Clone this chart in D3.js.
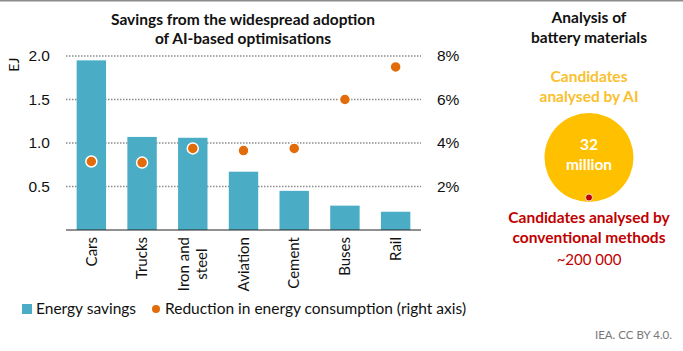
<!DOCTYPE html>
<html>
<head>
<meta charset="utf-8">
<script src="https://cdn.jsdelivr.net/npm/d3@7"></script>
<style>
  body { margin: 0; background: #fff; }
  svg { display: block; font-family: Lato, "Noto Sans", sans-serif; }
</style>
</head>
<body>
<div id="chart"></div>
<script>
// data
let sectors = [["Cars"], ["Trucks"], ["Iron and", "steel"], ["Aviation"], ["Cement"], ["Buses"], ["Rail"]];
let savings = [1.95, 1.07, 1.06, 0.67, 0.45, 0.28, 0.21];
let reduction = [3.15, 3.1, 3.75, 3.65, 3.75, 6.0, 7.5];
let leftTicks = [0.5, 1.0, 1.5, 2.0];
let rightTicks = [2, 4, 6, 8];
let bubbleValues = [32000000, 200000];

let width = 683, height = 351;
let margin = ({top: 56, right: 262, bottom: 121, left: 66});

let barColor = "#4bacc6", dotColor = "#e36c0a", gold = "#ffc000", darkRed = "#c00000";

let svg = d3.select("#chart")
  .append("svg")
  .attr("width", width)
  .attr("height", height);

svg.append("line")
  .attr("x1", 0).attr("x2", width).attr("y1", 0.5).attr("y2", 0.5)
  .attr("stroke", "#8c8c8c").attr("stroke-width", 2);

let x = d3.scaleBand()
  .domain(d3.range(sectors.length))
  .range([margin.left, width - margin.right])
  .paddingInner(0.42)
  .paddingOuter(0.21);

let y = d3.scaleLinear()
  .domain([0, 2])
  .range([height - margin.bottom, margin.top]);

let y2 = d3.scaleLinear()
  .domain([0, 8])
  .range([height - margin.bottom, margin.top]);

// grid
svg.append("g")
  .selectAll("line")
  .data(leftTicks)
  .join("line")
  .attr("x1", margin.left)
  .attr("x2", width - margin.right)
  .attr("y1", d => y(d))
  .attr("y2", d => y(d))
  .attr("stroke", "#8a8a8a")
  .attr("stroke-width", 1.3)
  .attr("stroke-dasharray", "1.5,1.5");

// left axis
svg.append("g")
  .attr("transform", `translate(${margin.left - 16},0)`)
  .call(d3.axisLeft(y).tickValues(leftTicks).tickFormat(d3.format(".1f")).tickSize(0).tickPadding(0))
  .call(g => g.select(".domain").remove())
  .call(g => g.selectAll("text").attr("font-size", 15.5).attr("fill", "#111").attr("font-family", null));

svg.append("text")
  .attr("transform", `translate(19,${y(1.9)}) rotate(-90)`)
  .attr("text-anchor", "middle")
  .attr("font-size", 14)
  .attr("fill", "#111")
  .text("EJ");

// right axis
svg.append("g")
  .attr("transform", `translate(${width - margin.right + 16},0)`)
  .call(d3.axisRight(y2).tickValues(rightTicks).tickFormat(d => d + "%").tickSize(0).tickPadding(0))
  .call(g => g.select(".domain").remove())
  .call(g => g.selectAll("text").attr("font-size", 15.5).attr("fill", "#111").attr("font-family", null));

// bars
svg.append("g")
  .attr("fill", barColor)
  .selectAll("rect")
  .data(savings)
  .join("rect")
  .attr("x", (d, i) => x(i))
  .attr("width", x.bandwidth())
  .attr("y", d => y(d))
  .attr("height", d => y(0) - y(d));

// baseline
svg.append("line")
  .attr("x1", margin.left)
  .attr("x2", width - margin.right)
  .attr("y1", y(0))
  .attr("y2", y(0))
  .attr("stroke", "#222")
  .attr("stroke-width", 1);

// dots
svg.append("g")
  .selectAll("circle")
  .data(reduction)
  .join("circle")
  .attr("cx", (d, i) => x(i) + x.bandwidth() / 2)
  .attr("cy", d => y2(d))
  .attr("r", 5.5)
  .attr("fill", dotColor)
  .attr("stroke", "#fff")
  .attr("stroke-width", 1.5);

// category labels
let cats = svg.append("g")
  .attr("font-size", 15)
  .attr("fill", "#111")
  .selectAll("g")
  .data(sectors)
  .join("g")
  .attr("transform", (d, i) => `translate(${x(i) + x.bandwidth() / 2},${y(0) + 7}) rotate(-90)`);

cats.each(function(lines) {
  let g = d3.select(this);
  let t = g.append("text").attr("text-anchor", "middle");
  lines.forEach((l, j) => {
    t.append("tspan")
      .attr("x", 0)
      .attr("dy", j == 0 ? (0.35 - (lines.length - 1) * 0.6) + "em" : "1.2em")
      .text(l);
  });
  let w = d3.max(t.selectAll("tspan").nodes(), n => n.getComputedTextLength());
  t.selectAll("tspan").attr("x", -w / 2);
});

// title
svg.append("text")
  .attr("font-size", 15.5)
  .attr("font-weight", "bold")
  .attr("fill", "#111")
  .attr("text-anchor", "middle")
  .selectAll("tspan")
  .data(["Savings from the widespread adoption", "of AI-based optimisations"])
  .join("tspan")
  .attr("x", 243)
  .attr("y", (d, i) => 25 + i * 19)
  .text(d => d);

// legend
let legend = svg.append("g").attr("font-size", 15.5).attr("fill", "#111");
legend.append("rect").attr("x", 22).attr("y", 304).attr("width", 10).attr("height", 10).attr("fill", barColor);
legend.append("text").attr("x", 36).attr("y", 314).text("Energy savings");
legend.append("circle").attr("cx", 156).attr("cy", 309).attr("r", 4).attr("fill", dotColor);
legend.append("text").attr("x", 165).attr("y", 314).text("Reduction in energy consumption (right axis)");

// right panel
let cx = 589;
svg.append("text")
  .attr("font-size", 15.5)
  .attr("font-weight", "bold")
  .attr("fill", "#111")
  .attr("text-anchor", "middle")
  .selectAll("tspan")
  .data(["Analysis of", "battery materials"])
  .join("tspan")
  .attr("x", cx)
  .attr("y", (d, i) => 23 + i * 20)
  .text(d => d);

svg.append("text")
  .attr("font-size", 15.5)
  .attr("font-weight", "bold")
  .attr("fill", "#fbc02d")
  .attr("text-anchor", "middle")
  .selectAll("tspan")
  .data(["Candidates", "analysed by AI"])
  .join("tspan")
  .attr("x", cx)
  .attr("y", (d, i) => 82 + i * 20)
  .text(d => d);

let r = d3.scaleSqrt().domain([0, bubbleValues[0]]).range([0, 44.5]);
let bottomY = 202;

svg.append("circle")
  .attr("cx", cx)
  .attr("cy", bottomY - r(bubbleValues[0]))
  .attr("r", r(bubbleValues[0]))
  .attr("fill", gold);

svg.append("text")
  .attr("font-size", 15.5)
  .attr("font-weight", "bold")
  .attr("fill", "#fff")
  .attr("text-anchor", "middle")
  .selectAll("tspan")
  .data(["32", "million"])
  .join("tspan")
  .attr("x", cx)
  .attr("y", (d, i) => 150 + i * 20)
  .text(d => d);

svg.append("circle")
  .attr("cx", cx)
  .attr("cy", bottomY - r(bubbleValues[1]) - 1)
  .attr("r", r(bubbleValues[1]))
  .attr("fill", darkRed)
  .attr("stroke", "#fff")
  .attr("stroke-width", 0.8);

svg.append("text")
  .attr("font-size", 15.5)
  .attr("font-weight", "bold")
  .attr("fill", darkRed)
  .attr("text-anchor", "middle")
  .selectAll("tspan")
  .data(["Candidates analysed by", "conventional methods"])
  .join("tspan")
  .attr("x", cx)
  .attr("y", (d, i) => 223 + i * 20)
  .text(d => d);

svg.append("text")
  .attr("x", cx)
  .attr("y", 265)
  .attr("font-size", 15)
  .attr("fill", darkRed)
  .attr("text-anchor", "middle")
  .text("~200 000");

svg.append("text")
  .attr("x", 672)
  .attr("y", 339)
  .attr("font-size", 11.5)
  .attr("fill", "#777")
  .attr("text-anchor", "end")
  .text("IEA. CC BY 4.0.");
</script>
</body>
</html>
